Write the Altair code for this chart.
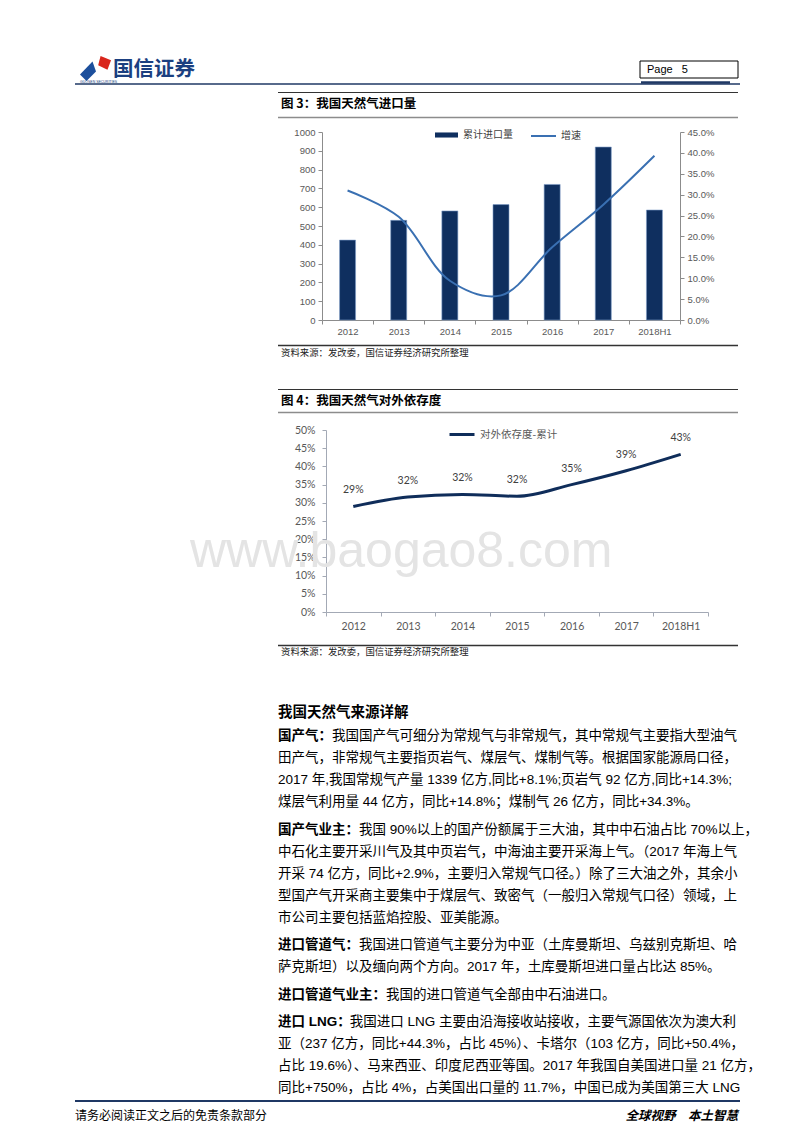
import altair as alt
import pandas as pd

# ---------------- data ----------------
years = ["2012", "2013", "2014", "2015", "2016", "2017", "2018H1"]
import_volume = [425, 530, 580, 614, 721, 920, 585]                 # 累计进口量
import_growth = [0.310, 0.247, 0.094, 0.059, 0.174, 0.276, 0.393]  # 增速
dependence = [0.290, 0.316, 0.323, 0.318, 0.350, 0.388, 0.433]     # 对外依存度-累计

volume_ticks = [0, 100, 200, 300, 400, 500, 600, 700, 800, 900, 1000]
growth_ticks = [0.0, 0.05, 0.10, 0.15, 0.20, 0.25, 0.30, 0.35, 0.40, 0.45]
dependence_ticks = [0.0, 0.05, 0.10, 0.15, 0.20, 0.25, 0.30, 0.35, 0.40, 0.45, 0.50]

bar_series = ["累计进口量"]
line_series = ["增速"]
dep_series = ["对外依存度-累计"]

fig3_title = "图 3：我国天然气进口量"
fig4_title = "图 4：我国天然气对外依存度"
source_text = "资料来源：发改委，国信证券经济研究所整理"
section_title = "我国天然气来源详解"
paragraphs = [
    ("国产气：", [
        "我国国产气可细分为常规气与非常规气，其中常规气主要指大型油气",
        "田产气，非常规气主要指页岩气、煤层气、煤制气等。根据国家能源局口径，",
        "2017 年,我国常规气产量 1339 亿方,同比+8.1%;页岩气 92 亿方,同比+14.3%;",
        "煤层气利用量 44 亿方，同比+14.8%；煤制气 26 亿方，同比+34.3%。",
    ]),
    ("国产气业主：", [
        "我国 90%以上的国产份额属于三大油，其中中石油占比 70%以上，",
        "中石化主要开采川气及其中页岩气，中海油主要开采海上气。（2017 年海上气",
        "开采 74 亿方，同比+2.9%，主要归入常规气口径。）除了三大油之外，其余小",
        "型国产气开采商主要集中于煤层气、致密气（一般归入常规气口径）领域，上",
        "市公司主要包括蓝焰控股、亚美能源。",
    ]),
    ("进口管道气：", [
        "我国进口管道气主要分为中亚（土库曼斯坦、乌兹别克斯坦、哈",
        "萨克斯坦）以及缅向两个方向。2017 年，土库曼斯坦进口量占比达 85%。",
    ]),
    ("进口管道气业主：", [
        "我国的进口管道气全部由中石油进口。",
    ]),
    ("进口 LNG：", [
        "我国进口 LNG 主要由沿海接收站接收，主要气源国依次为澳大利",
        "亚（237 亿方，同比+44.3%，占比 45%）、卡塔尔（103 亿方，同比+50.4%，",
        "占比 19.6%）、马来西亚、印度尼西亚等国。2017 年我国自美国进口量 21 亿方，",
        "同比+750%，占比 4%，占美国出口量的 11.7%，中国已成为美国第三大 LNG",
    ]),
]
footer_left = "请务必阅读正文之后的免责条款部分"
footer_right = "全球视野\u3000本土智慧"
page_label = "Page\u00a0\u00a0\u00a05"
watermark = "www.baogao8.com"

# ---------------- layout helpers ----------------
W, H, M = 784, 1116, 8


def px(v):
    return v - M


CJK = "Noto Sans CJK SC"
BODY = "Liberation Sans, Noto Sans CJK SC"
ARIAL = "Liberation Sans"
LATO = "Lato"
NAVY = "#0f2f5f"
BLUE = "#3a70b2"
DEEP = "#0f2d5a"
GRAY = "#595959"
AXIS = "#8c8c8c"
HEAD = "#1f3864"

ONE = alt.Data(values=[{"k": 0}])


def label(s, x, y, size, font=CJK, color="#000000", weight=None, style=None,
          align="left", baseline="middle"):
    kw = dict(align=align, baseline=baseline, font=font, fontSize=size, color=color)
    if weight:
        kw["fontWeight"] = weight
    if style:
        kw["fontStyle"] = style
    return alt.Chart(ONE).mark_text(**kw).encode(
        x=alt.value(px(x)), y=alt.value(px(y)), text=alt.value(s))


def hline(x1, x2, y, color, width):
    return alt.Chart(ONE).mark_rule(color=color, strokeWidth=width).encode(
        x=alt.value(px(x1)), x2=alt.value(px(x2)), y=alt.value(px(y)))


def est_width(s, size):
    w = 0.0
    for ch in s:
        if ord(ch) > 0x2E80:
            w += 1.0
        elif ch == " ":
            w += 0.28
        elif ch.isupper():
            w += 0.68
        else:
            w += 0.56
    return w * size


layers = []

# watermark (behind everything)
layers.append(label(watermark, 190, 567, 50, font=ARIAL, color="#e4e4e4",
                    baseline="alphabetic"))

# ---------------- page header ----------------
layers.append(alt.Chart(ONE).mark_point(
    shape="M-1,0.35L0.25,-0.95L0.6,0.05L-0.35,1Z", filled=True, fill="#1c4f9c",
    size=400, opacity=1, strokeWidth=0).encode(x=alt.value(px(90)), y=alt.value(px(71))))
layers.append(alt.Chart(ONE).mark_point(
    shape="M-0.3,-1L1,-0.45L0.55,0.7L-0.6,0.15Z", filled=True, fill="#d9261c",
    size=260, opacity=1, strokeWidth=0).encode(x=alt.value(px(103)), y=alt.value(px(64))))
layers.append(label("国信证券", 113, 70, 20.5, color="#1b3f80", weight="bold"))
layers.append(label("GUOSEN SECURITIES", 80, 82, 3.5, font=ARIAL, color="#1b3f80"))
layers.append(hline(75, 740, 84, HEAD, 1.5))
layers.append(alt.Chart(ONE).mark_rect(fill="#ffffff", stroke="#000000", strokeWidth=1).encode(
    x=alt.value(px(640)), x2=alt.value(px(738)), y=alt.value(px(61)), y2=alt.value(px(78))))
layers.append(label(page_label, 647, 69.5, 11, font=ARIAL))
layers.append(hline(641, 730, 82.5, HEAD, 2.5))

# ---------------- figure 3 frame ----------------
layers.append(hline(278, 738, 92.5, "#333333", 1))
layers.append(label(fig3_title, 281, 104, 12.5, weight="bold"))
layers.append(hline(278, 738, 117.5, "#8c8c8c", 1.5))
layers.append(hline(278, 738, 345.5, "#333333", 1.5))
layers.append(label(source_text, 281, 353, 9.4, color="#222222"))

# ---------------- figure 3 chart ----------------
df1 = pd.DataFrame({
    "year": years,
    "volume": import_volume,
    "growth": import_growth,
    "s_bar": [bar_series[0]] * len(years),
    "s_line": [line_series[0]] * len(years),
})
ax_style = dict(grid=False, domainColor=AXIS, tickColor=AXIS, labelColor=GRAY, tickSize=4)
x1 = alt.Scale(type="band", domain=years, range=[px(322), px(680)], paddingInner=0, paddingOuter=0)

bars = alt.Chart(df1).mark_bar(size=16, stroke="#7d9cc8", strokeWidth=0.6).encode(
    x=alt.X("year:N", scale=x1, title=None,
            axis=alt.Axis(orient="bottom", offset=px(320) - H, labelAngle=0, tickBand="extent",
                          labelPadding=2, labelFont=ARIAL, labelFontSize=9.5, **ax_style)),
    y=alt.Y("volume:Q", scale=alt.Scale(domain=[0, 1000], range=[px(320), px(132)], nice=False, zero=False),
            title=None,
            axis=alt.Axis(orient="left", offset=-px(322), values=volume_ticks, format="d",
                          labelPadding=3, labelFont=ARIAL, labelFontSize=9.5, **ax_style)),
    color=alt.Color("s_bar:N", scale=alt.Scale(domain=bar_series, range=[NAVY]), title=None,
                    legend=alt.Legend(orient="none", legendX=px(435), legendY=px(135) - 11.5,
                                      symbolType="M-1,-0.22H1V0.22H-1Z", symbolSize=529,
                                      symbolStrokeWidth=0, symbolOpacity=1, labelFont=CJK,
                                      labelFontSize=10, labelColor="#404040", labelOffset=5,
                                      padding=0)),
)

line1 = alt.Chart(df1).mark_line(interpolate="catmull-rom", strokeWidth=2).encode(
    x=alt.X("year:N", scale=x1, bandPosition=0.5, axis=None),
    y=alt.Y("growth:Q", scale=alt.Scale(domain=[0, 0.45], range=[px(320), px(132)], nice=False, zero=False),
            title=None,
            axis=alt.Axis(orient="right", offset=px(680) - W, values=growth_ticks, format=".1%",
                          labelPadding=3, labelFont=ARIAL, labelFontSize=9.5, **ax_style)),
    color=alt.Color("s_line:N", scale=alt.Scale(domain=line_series, range=[BLUE]), title=None,
                    legend=alt.Legend(orient="none", legendX=px(530), legendY=px(135) - 12.5,
                                      symbolType="stroke", symbolSize=625, symbolStrokeWidth=2,
                                      labelFont=CJK, labelFontSize=10, labelColor="#404040",
                                      labelOffset=4, padding=0)),
)
layers += [bars, line1]

# ---------------- figure 4 frame ----------------
layers.append(hline(278, 738, 389.5, "#333333", 1))
layers.append(label(fig4_title, 281, 401, 12.5, weight="bold"))
layers.append(hline(278, 738, 412.5, "#8c8c8c", 1.5))
layers.append(hline(278, 738, 645.5, "#333333", 1.5))
layers.append(label(source_text, 281, 652, 9.4, color="#222222"))

# ---------------- figure 4 chart ----------------
df2 = pd.DataFrame({"year": years, "dep": dependence, "s_dep": [dep_series[0]] * len(years)})
ax2_style = dict(grid=False, domainColor="#a3a9b5", tickColor="#a3a9b5", labelColor=GRAY, tickSize=4)
x2 = alt.Scale(type="band", domain=years, range=[px(326), px(708)], paddingInner=0, paddingOuter=0)
y2 = alt.Scale(domain=[0, 0.5], range=[px(612), px(430)], nice=False, zero=False)

line2 = alt.Chart(df2).mark_line(interpolate="monotone", strokeWidth=3).encode(
    x=alt.X("year:N", scale=x2, bandPosition=0.5, title=None,
            axis=alt.Axis(orient="bottom", offset=px(612) - H, labelAngle=0, tickBand="extent",
                          labelPadding=5, labelFont=LATO, labelFontSize=10.5, **ax2_style)),
    y=alt.Y("dep:Q", scale=y2, title=None,
            axis=alt.Axis(orient="left", offset=-px(326), values=dependence_ticks, format=".0%",
                          labelPadding=7, labelFont=LATO, labelFontSize=10.5, **ax2_style)),
    color=alt.Color("s_dep:N", scale=alt.Scale(domain=dep_series, range=[DEEP]), title=None,
                    legend=alt.Legend(orient="none", legendX=px(448), legendY=px(433) - 12.5,
                                      symbolType="stroke", symbolSize=625, symbolStrokeWidth=3,
                                      labelFont=CJK, labelFontSize=10.5, labelColor=GRAY,
                                      labelOffset=4, padding=0)),
)
labels2 = alt.Chart(df2).mark_text(dy=-16, font=LATO, fontSize=10.5, color="#404040").encode(
    x=alt.X("year:N", scale=x2, bandPosition=0.5, axis=None),
    y=alt.Y("dep:Q", scale=y2, axis=None),
    text=alt.Text("dep:Q", format=".0%"),
)
layers += [line2, labels2]

# ---------------- body text ----------------
BODY_SIZE = 13.5
LINE = 22
GAP = 5.5
TX = 278
layers.append(label(section_title, TX, 713, 14.5, weight="bold"))
y = 736
for prefix, lines in paragraphs:
    layers.append(label(prefix, TX, y, BODY_SIZE, font=BODY, weight="bold"))
    for i, line in enumerate(lines):
        x0 = TX + (est_width(prefix, BODY_SIZE) if i == 0 else 0)
        layers.append(label(line, x0, y + i * LINE, BODY_SIZE, font=BODY))
    y += len(lines) * LINE + GAP

# ---------------- footer ----------------
layers.append(hline(75, 740, 1101, HEAD, 2))
layers.append(label(footer_left, 75, 1115.5, 12))
layers.append(label(footer_right, 738, 1115.5, 12.5, weight="bold", style="italic", align="right"))

chart = alt.layer(*layers).resolve_scale(
    x="independent", y="independent", color="independent"
).resolve_axis(
    x="independent", y="independent"
).resolve_legend(
    color="independent"
).properties(
    width=W, height=H, padding=0, background="#ffffff",
    autosize=alt.AutoSizeParams(type="none"),
).configure_view(strokeWidth=0)

chart.save("out.html", embed_options={"renderer": "svg", "actions": False})
